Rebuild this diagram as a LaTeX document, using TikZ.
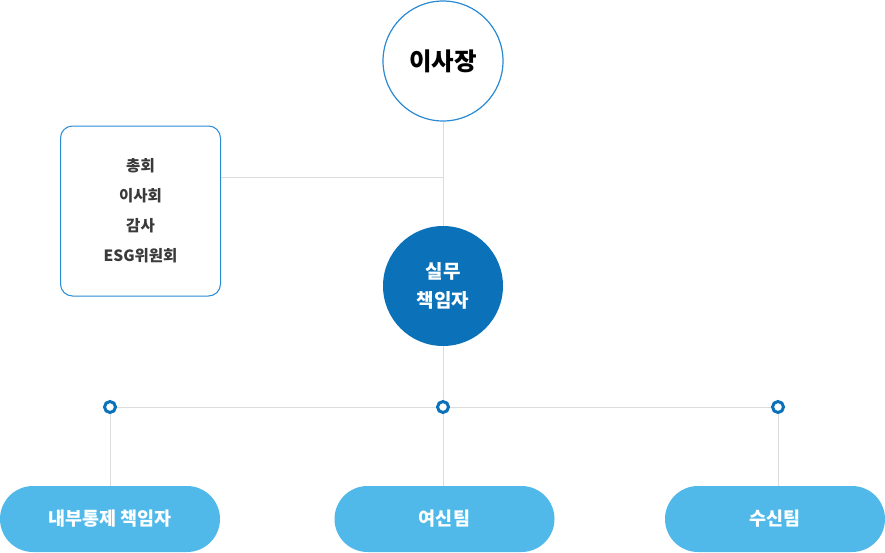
\documentclass[tikz,border=0pt]{standalone}
\usepackage{fontspec}
\setmainfont{Noto Sans CJK KR}
\definecolor{ringblue}{HTML}{2A8BD4}
\definecolor{darkblue}{HTML}{0B72B9}
\definecolor{pillblue}{HTML}{50B9EA}
\definecolor{linegray}{HTML}{DCDCDC}
\definecolor{txtgray}{HTML}{3A3A3A}
\tikzset{
  topcircle/.style={circle,draw=ringblue,line width=1.2pt,fill=white,minimum size=120pt,inner sep=0pt,font=\fontsize{24.5}{28}\selectfont\bfseries,text=black},
  midcircle/.style={circle,fill=darkblue,minimum size=120pt,inner sep=0pt,font=\fontsize{19}{29}\selectfont\bfseries,text=white,align=center},
  govbox/.style={rectangle,rounded corners=12pt,draw=ringblue,line width=1pt,fill=white,minimum width=160pt,minimum height=170pt,inner sep=0pt,font=\fontsize{15.5}{30}\selectfont\bfseries,text=txtgray,align=center},
  dotnode/.style={circle,draw=darkblue,line width=3pt,fill=white,minimum size=11pt,inner sep=0pt},
  pill/.style={rectangle,rounded corners=33pt,fill=pillblue,minimum width=220pt,minimum height=66pt,inner sep=0pt,font=\fontsize{18.5}{22}\selectfont\bfseries,text=white},
  conn/.style={draw=linegray,line width=1pt}
}
\begin{document}
\begin{tikzpicture}[x=1pt,y=-1pt]
\useasboundingbox (0,0) rectangle (885,552);
% nodes
\node[topcircle] (ceo) at (443,61) {이사장};
\node[govbox] (gov) at (140.5,211) {총회\\이사회\\감사\\ESG위원회};
\node[midcircle] (mgr) at (443,286) {실무\\책임자};
\coordinate (j1) at (443,177);
\node[dotnode] (dl) at (110,407) {};
\node[dotnode] (dm) at (443,407) {};
\node[dotnode] (dr) at (778,407) {};
\node[pill] (pl) at (110,519) {내부통제 책임자};
\node[pill] (pm) at (444.5,519) {여신팀};
\node[pill] (pr) at (775,519) {수신팀};
% connectors
\draw[conn] (ceo.south) -- (mgr.north);
\draw[conn] (j1) -- (j1 -| gov.east);
\draw[conn] (mgr.south) -- (dm.north);
\draw[conn] (dl.east) -- (dm.west);
\draw[conn] (dm.east) -- (dr.west);
\draw[conn] (dl.south) -- (dl.south |- pl.north);
\draw[conn] (dm.south) -- (dm.south |- pm.north);
\draw[conn] (dr.south) -- (dr.south |- pr.north);
\end{tikzpicture}
\end{document}
